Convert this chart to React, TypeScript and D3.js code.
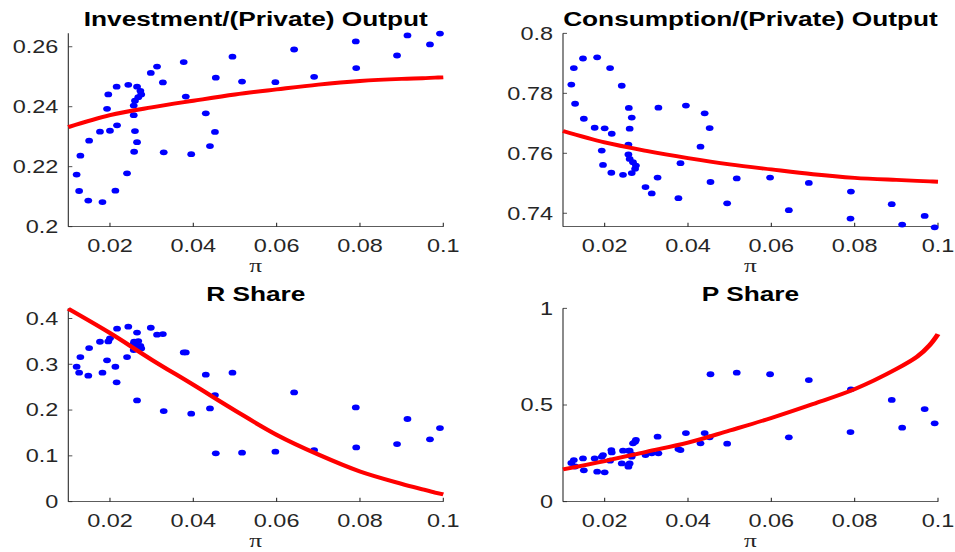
import React from 'react';
import * as d3 from 'd3';

// inflation (pi) for each observation, shared by all four panels
const piValues = [
  0.0120, 0.0126, 0.0129, 0.0148, 0.0150, 0.0176, 0.0182, 0.0193, 0.0196, 0.0200,
  0.0213, 0.0216, 0.0217, 0.0241, 0.0244, 0.0258, 0.0265, 0.0260, 0.0257, 0.0257,
  0.0260, 0.0268, 0.0275, 0.0273, 0.0265, 0.0298, 0.0313, 0.0327, 0.0329, 0.0377,
  0.0382, 0.0395, 0.0430, 0.0440, 0.0452, 0.0454, 0.0494, 0.0517, 0.0597, 0.0642,
  0.0690, 0.0790, 0.0791, 0.0889, 0.0914, 0.0968, 0.0992,
];

const investmentShare = [
  0.2174, 0.2119, 0.2237, 0.2087, 0.2287, 0.2317, 0.2082, 0.2393, 0.2441, 0.2320,
  0.2120, 0.2467, 0.2338, 0.2178, 0.2473, 0.2250, 0.2282, 0.2319, 0.2372, 0.2404,
  0.2420, 0.2432, 0.2441, 0.2453, 0.2467, 0.2513, 0.2534, 0.2481, 0.2248, 0.2549,
  0.2434, 0.2242, 0.2378, 0.2269, 0.2316, 0.2497, 0.2567, 0.2484, 0.2482, 0.2591,
  0.2500, 0.2618, 0.2529, 0.2571, 0.2638, 0.2608, 0.2644,
];

const consumptionShare = [
  0.7829, 0.7884, 0.7765, 0.7916, 0.7715, 0.7685, 0.7920, 0.7609, 0.7561, 0.7683,
  0.7884, 0.7535, 0.7665, 0.7825, 0.7528, 0.7751, 0.7719, 0.7682, 0.7629, 0.7596,
  0.7581, 0.7570, 0.7559, 0.7548, 0.7534, 0.7487, 0.7466, 0.7519, 0.7752, 0.7450,
  0.7567, 0.7759, 0.7622, 0.7733, 0.7684, 0.7504, 0.7433, 0.7516, 0.7519, 0.7410,
  0.7501, 0.7382, 0.7472, 0.7430, 0.7362, 0.7391, 0.7353,
];

const rShare = [
  0.2945, 0.2815, 0.3156, 0.2749, 0.3353, 0.3490, 0.2815, 0.3084, 0.3498, 0.3564,
  0.2945, 0.2604, 0.3775, 0.3156, 0.3818, 0.3490, 0.2210, 0.3380, 0.3450, 0.3310,
  0.3420, 0.3505, 0.3345, 0.3400, 0.3690, 0.3796, 0.3644, 0.3658, 0.1978, 0.3258,
  0.3258, 0.1920, 0.2771, 0.2036, 0.2327, 0.1055, 0.2815, 0.1069, 0.1091, 0.2385,
  0.1127, 0.2058, 0.1185, 0.1258, 0.1804, 0.1360, 0.1607,
];

const pShare = [
  0.200, 0.215, 0.182, 0.224, 0.162, 0.224, 0.155, 0.232, 0.241, 0.152,
  0.212, 0.267, 0.255, 0.198, 0.264, 0.264, 0.233, 0.198, 0.181, 0.190,
  0.264, 0.302, 0.319, 0.310, 0.245, 0.241, 0.250, 0.336, 0.250, 0.272,
  0.267, 0.355, 0.302, 0.355, 0.333, 0.659, 0.300, 0.667, 0.659, 0.333,
  0.629, 0.360, 0.581, 0.526, 0.383, 0.479, 0.405,
];

// model curves (red lines)
const fitPi = [0.01, 0.02, 0.03, 0.04, 0.05, 0.06, 0.07, 0.08, 0.09, 0.095, 0.098, 0.1];
const investmentFit = [0.2332, 0.2372, 0.2398, 0.2420, 0.2441, 0.2458, 0.2474, 0.2486, 0.2493, 0.2495, 0.2497, 0.2498];
const consumptionFit = [0.7674, 0.7636, 0.7608, 0.7584, 0.7563, 0.7546, 0.7530, 0.7518, 0.7511, 0.7508, 0.7506, 0.7505];
const rFit = [0.421, 0.368, 0.310, 0.255, 0.199, 0.146, 0.103, 0.066, 0.039, 0.027, 0.020, 0.016];
const pFit = [0.167, 0.210, 0.258, 0.305, 0.368, 0.433, 0.505, 0.582, 0.686, 0.750, 0.810, 0.867];

const xTicks = [0.02, 0.04, 0.06, 0.08, 0.1];
const investmentTicks = [0.2, 0.22, 0.24, 0.26];
const consumptionTicks = [0.74, 0.76, 0.78, 0.8];
const rTicks = [0, 0.1, 0.2, 0.3, 0.4];
const pTicks = [0, 0.5, 1];

// the figure is stretched horizontally; draw in unstretched units
const SX = 1.34;
const W = 955;
const H = 552;
const AXIS = '#262626';
const FONT = '"Liberation Sans", Arial, Helvetica, sans-serif';

interface PanelProps {
  title: string;
  values: number[];
  fit: number[];
  yDomain: [number, number];
  yTicks: number[];
  left: number;
  top: number;
}

const Panel: React.FC<PanelProps> = ({ title, values, fit, yDomain, yTicks, left, top }) => {
  const width = 375;
  const height = 193.4;
  const x = d3.scaleLinear().domain([0.01, 0.1]).range([left / SX, (left + width) / SX]);
  const y = d3.scaleLinear().domain(yDomain).range([top + height, top]);
  const x0 = x.range()[0];
  const x1 = x.range()[1];
  const yb = top + height;

  const line = d3.line<number>()
    .x((_, i) => x(fitPi[i]))
    .y(d => y(d))
    .curve(d3.curveCatmullRom.alpha(0.5));

  return (
    <g>
      <text x={(x0 + x1) / 2} y={top - 7.5} textAnchor="middle" fontFamily={FONT}
        fontWeight="bold" fontSize={19.6} fill="#000">{title}</text>

      {/* axes */}
      <line x1={x0} x2={x0} y1={top} y2={yb} stroke={AXIS} strokeWidth={0.8} />
      <line x1={x0} x2={x1} y1={yb} y2={yb} stroke={AXIS} strokeWidth={0.8} />

      {yTicks.map(t => (
        <g key={'y' + t}>
          <line x1={x0} x2={x0 + 3} y1={y(t)} y2={y(t)} stroke={AXIS} strokeWidth={0.8} />
          <text x={x0 - 10 / SX} y={y(t)} dy="0.36em" textAnchor="end" fontFamily={FONT}
            fontSize={17.5} fill={AXIS}>{String(t)}</text>
        </g>
      ))}
      {xTicks.map(t => (
        <g key={'x' + t}>
          <line x1={x(t)} x2={x(t)} y1={yb} y2={yb - 4} stroke={AXIS} strokeWidth={0.8} />
          <text x={x(t)} y={yb + 25} textAnchor="middle" fontFamily={FONT}
            fontSize={17.5} fill={AXIS}>{String(t)}</text>
        </g>
      ))}
      <text x={(x0 + x1) / 2} y={yb + 45} textAnchor="middle"
        fontFamily='"Liberation Serif", "Times New Roman", serif' fontSize={19} fill={AXIS}>π</text>

      {values.map((v, i) => (
        <circle key={i} cx={x(piValues[i])} cy={y(v)} r={2.9} fill="#0000ff" />
      ))}
      <path d={line(fit) ?? ''} fill="none" stroke="#ff0000" strokeWidth={3.9} />
    </g>
  );
};

export default function App() {
  return (
    <svg width={W} height={H} viewBox={`0 0 ${W / SX} ${H}`} preserveAspectRatio="none"
      style={{ position: 'absolute', left: 0, top: 0, background: '#fff' }}>
      <Panel title="Investment/(Private) Output" values={investmentShare} fit={investmentFit}
        yDomain={[0.2, 0.2645]} yTicks={investmentTicks} left={68.3} top={33.3} />
      <Panel title="Consumption/(Private) Output" values={consumptionShare} fit={consumptionFit}
        yDomain={[0.7355, 0.8]} yTicks={consumptionTicks} left={563} top={33.3} />
      <Panel title="R Share" values={rShare} fit={rFit}
        yDomain={[0, 0.422]} yTicks={rTicks} left={68.3} top={308.3} />
      <Panel title="P Share" values={pShare} fit={pFit}
        yDomain={[0, 1]} yTicks={pTicks} left={563} top={308.3} />
    </svg>
  );
}
